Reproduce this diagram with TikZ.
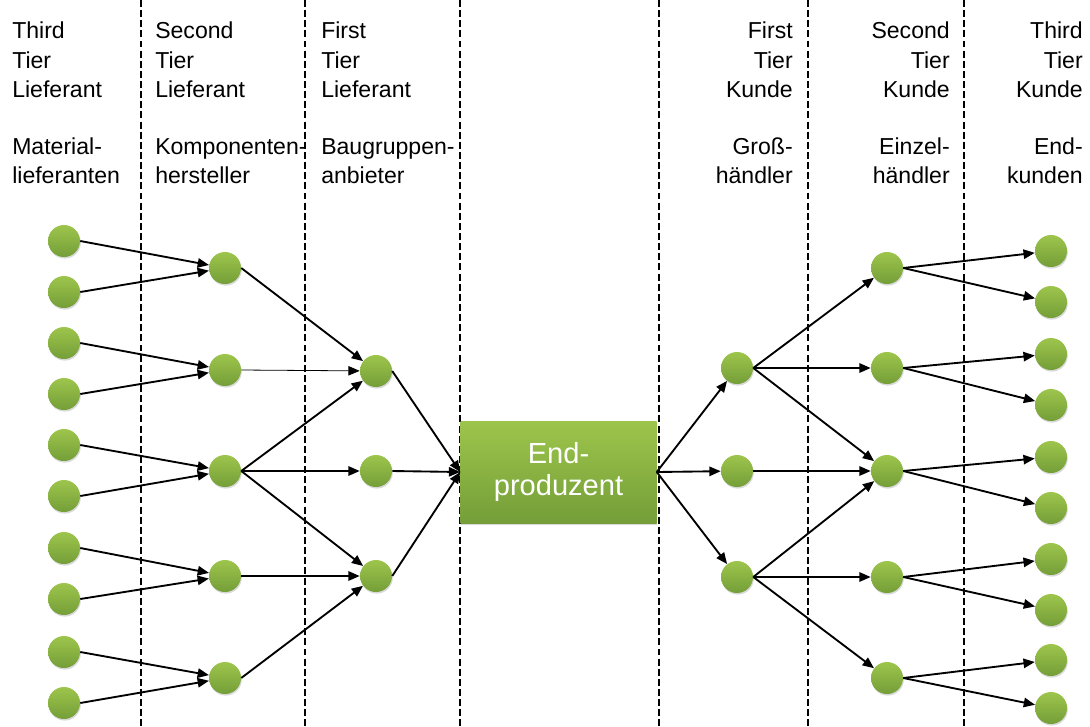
\documentclass[tikz,border=0pt]{standalone}
\usepackage{fontspec}
\setmainfont{Liberation Sans}
\usepackage{tikz}
\usetikzlibrary{arrows.meta,positioning,calc,shadows}

\definecolor{gruenhell}{RGB}{157,197,76}
\definecolor{gruendunkel}{RGB}{116,158,56}

\tikzset{
  firma/.style={circle,minimum size=24pt,inner sep=0pt,
    top color=gruenhell,bottom color=gruendunkel,
    drop shadow={opacity=0.3,shadow xshift=0.6pt,shadow yshift=-1.2pt}},
  fluss/.style={line width=1.4pt,-{Triangle[length=8.5pt,width=7pt]}},
  grenze/.style={line width=1.9pt,dash pattern=on 5.2pt off 2.4pt},
  kopf/.style={inner sep=0pt,font=\fontsize{17.3}{21.8}\selectfont}
}

\begin{document}
\begin{tikzpicture}[x=0.75pt,y=-0.75pt]
        \useasboundingbox (0,0) rectangle (1090,726);

        % Trennlinien
        \foreach \xx in {141,305,460,659,808,964} {
          \draw[grenze] (\xx,0) -- (\xx,726);
        }

        % Spaltenkoepfe Lieferanten
        \node[kopf,anchor=north west,align=left] (kopfm) at (12,22)
          {Third\\Tier\\Lieferant\\[21.5pt]Material-\\lieferanten};
        \node[kopf,anchor=north west,align=left] (kopfk) at (155,22)
          {Second\\Tier\\Lieferant\\[21.5pt]Komponenten-\\hersteller};
        \node[kopf,anchor=north west,align=left] (kopfb) at (321,22)
          {First\\Tier\\Lieferant\\[21.5pt]Baugruppen-\\anbieter};

        % Spaltenkoepfe Kunden
        \node[kopf,anchor=north east,align=right] (kopfg) at (793,22)
          {First\\Tier\\Kunde\\[21.5pt]Groß-\\händler};
        \node[kopf,anchor=north east,align=right] (kopfe) at (950,22)
          {Second\\Tier\\Kunde\\[21.5pt]Einzel-\\händler};
        \node[kopf,anchor=north east,align=right] (kopfn) at (1083,22)
          {Third\\Tier\\Kunde\\[21.5pt]End-\\kunden};

        % Endproduzent
        \node[rectangle,minimum width=147pt,minimum height=76.5pt,inner sep=0pt,
          top color=gruenhell,bottom color=gruendunkel,
          drop shadow={opacity=0.3,shadow xshift=0.6pt,shadow yshift=-1.2pt},
          text=white,align=center,font=\fontsize{21.8}{24.5}\selectfont]
          (ep) at (558.5,472) {End-\\produzent};

        % Firmen
        \foreach \yy [count=\i] in {241,292,343,394,445,496,548,599,652,703}
          \node[firma] (m\i) at (64,\yy) {};
        \foreach \yy [count=\i] in {268,370,471,576,678}
          \node[firma] (k\i) at (225,\yy) {};
        \foreach \yy [count=\i] in {371,471,576}
          \node[firma] (b\i) at (376,\yy) {};
        \foreach \yy [count=\i] in {368,471,577}
          \node[firma] (g\i) at (737,\yy) {};
        \foreach \yy [count=\i] in {268,368,471,577,678}
          \node[firma] (e\i) at (887,\yy) {};
        \foreach \yy [count=\i] in {251,302,354,405,457,508,559,610,660,708}
          \node[firma] (n\i) at (1051,\yy) {};

        % Materialfluss Lieferanten
        \foreach \i in {1,...,5} {
          \pgfmathtruncatemacro{\a}{2*\i-1}
          \pgfmathtruncatemacro{\b}{2*\i}
          \draw[fluss] (m\a.east) -- (k\i);
          \draw[fluss] (m\b.east) -- (k\i);
        }
        \draw[fluss] (k1.east) -- (b1);
        \draw[fluss,line width=0.6pt] (k2.east) -- (b1);
        \draw[fluss] (k3.east) -- (b1);
        \draw[fluss] (k3.east) -- (b2);
        \draw[fluss] (k3.east) -- (b3);
        \draw[fluss] (k4.east) -- (b3);
        \draw[fluss] (k5.east) -- (b3);
        \foreach \i in {1,2,3}
          \draw[fluss] (b\i.east) -- (ep.west);

        % Materialfluss Kunden
        \foreach \i in {1,2,3}
          \draw[fluss] (ep.east) -- (g\i);
        \draw[fluss] (g1.east) -- (e1);
        \draw[fluss] (g1.east) -- (e2);
        \draw[fluss] (g1.east) -- (e3);
        \draw[fluss] (g2.east) -- (e3);
        \draw[fluss] (g3.east) -- (e3);
        \draw[fluss] (g3.east) -- (e4);
        \draw[fluss] (g3.east) -- (e5);
        \foreach \i in {1,...,5} {
          \pgfmathtruncatemacro{\a}{2*\i-1}
          \pgfmathtruncatemacro{\b}{2*\i}
          \draw[fluss] (e\i.east) -- (n\a);
          \draw[fluss] (e\i.east) -- (n\b);
        }
      \end{tikzpicture}
\end{document}
